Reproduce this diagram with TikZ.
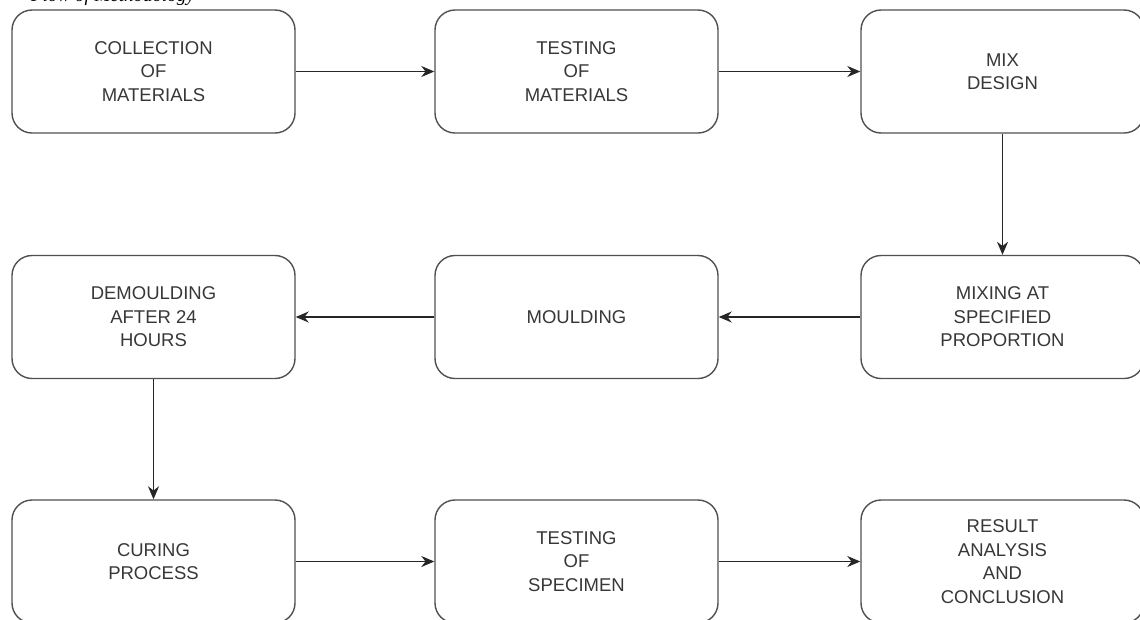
\documentclass[tikz,border=0pt]{standalone}
\usepackage{fontspec}
\setmainfont{Liberation Sans}
\newfontfamily\capfont{Liberation Serif}
\usetikzlibrary{arrows.meta}
\definecolor{boxline}{RGB}{80,80,80}
\definecolor{boxtext}{RGB}{55,55,55}
\tikzset{
	stepbox/.style={draw=boxline, line width=1.4pt, rounded corners=20pt, minimum width=283pt, minimum height=123pt,
		align=center, text=boxtext, font=\fontsize{18.5}{23.5}\selectfont},
	flow/.style={-{Stealth[length=13pt,width=11pt]}, line width=1.6pt, draw=black!85}
}
\begin{document}
\begin{tikzpicture}[x=1pt, y=-1pt, line join=round]
	\def \xa{153.5};
	\def \xb{576.5};
	\def \xc{1002.5};
	\useasboundingbox (0,0) rectangle (1140,619);
	\clip (0,0) rectangle (1140,619);
	\node[anchor=base east, inner sep=0pt, font=\capfont\itshape\fontsize{19}{22}\selectfont] (caption) at (195,1) {Flow of Methodology};
	% first row
	\node[stepbox] (collect) at (\xa,71.5) {COLLECTION\\OF\\MATERIALS};
	\node[stepbox] (testmat) at (\xb,71.5) {TESTING\\OF\\MATERIALS};
	\node[stepbox] (design) at (\xc,71.5) {MIX\\DESIGN};
	% second row
	\node[stepbox] (mixing) at (\xc,317) {MIXING AT\\SPECIFIED\\PROPORTION};
	\node[stepbox] (mould) at (\xb,317) {MOULDING};
	\node[stepbox] (demould) at (\xa,317) {DEMOULDING\\AFTER 24\\HOURS};
	% third row
	\node[stepbox] (curing) at (\xa,561.5) {CURING\\PROCESS};
	\node[stepbox] (testspec) at (\xb,561.5) {TESTING\\OF\\SPECIMEN};
	\node[stepbox] (result) at (\xc,561.5) {RESULT\\ANALYSIS\\AND\\CONCLUSION};
	\draw[flow] (collect) -- (testmat);
	\draw[flow] (testmat) -- (design);
	\draw[flow] (design) -- (mixing);
	\draw[flow] (mixing) -- (mould);
	\draw[flow] (mould) -- (demould);
	\draw[flow] (demould) -- (curing);
	\draw[flow] (curing) -- (testspec);
	\draw[flow] (testspec) -- (result);
\end{tikzpicture}
\end{document}
